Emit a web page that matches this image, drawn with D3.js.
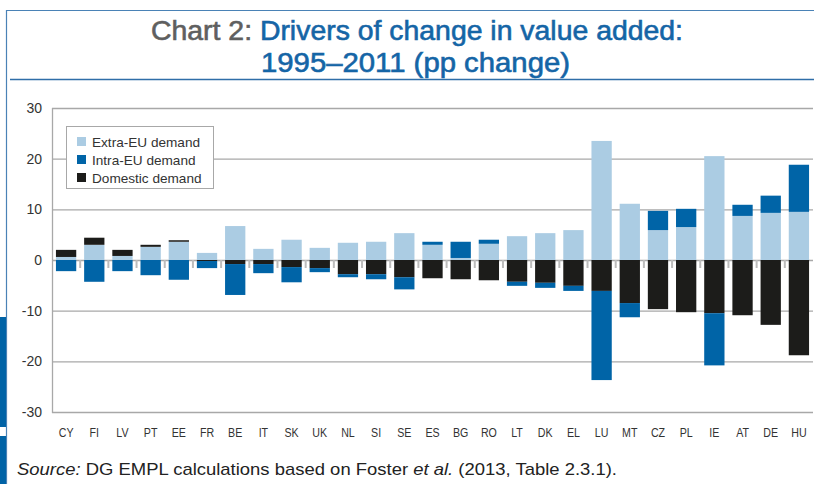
<!DOCTYPE html>
<html>
<head>
<meta charset="utf-8">
<script src="https://cdn.jsdelivr.net/npm/d3@7"></script>
<style>
  body { margin: 0; background: #fff; }
  svg { display: block; }
</style>
</head>
<body>
<svg id="chart" width="814" height="484"></svg>
<script>
// ---- data (pp change, 1995-2011) ----
var countries = ["CY","FI","LV","PT","EE","FR","BE","IT","SK","UK","NL","SI","SE",
                 "ES","BG","RO","LT","DK","EL","LU","MT","CZ","PL","IE","AT","DE","HU"];
var extraEU  = [0.6, 3.0, 0.8, 2.6, 3.6, 1.4, 6.7, 2.2, 4.0, 2.4, 3.4, 3.6, 5.3,
                3.0, 0.4, 3.2, 4.7, 5.3, 5.9, 23.5, 11.1, 5.9, 6.5, 20.5, 8.7, 9.3, 9.5];
var intraEU  = [-2.2, -4.3, -2.2, -3.0, -3.9, -1.4, -6.1, -1.8, -3.0, -0.8, -0.6, -1.0, -2.4,
                0.6, 3.2, 0.8, -0.8, -1.0, -1.0, -17.6, -2.8, 3.8, 3.6, -10.3, 2.2, 3.4, 9.3];
var domestic = [1.4, 1.4, 1.2, 0.4, 0.3, -0.2, -0.8, -0.8, -1.4, -1.6, -2.8, -2.8, -3.4,
                -3.6, -3.8, -4.0, -4.3, -4.5, -5.1, -6.1, -8.5, -9.7, -10.3, -10.5, -10.9, -12.8, -18.8];
var yTicks = [-30, -20, -10, 0, 10, 20, 30];
var seriesNames = ["Extra-EU demand", "Intra-EU demand", "Domestic demand"];
var seriesColors = ["#abcce3", "#0064a7", "#1c1c1a"];

var svg = d3.select("#chart");
var margin = {left: 52, right: 1, top: 108, bottom: 72};
var W = 814, H = 484;

//** frame and title **//
svg.append("path")
  .attr("d", "M814,10.5H6.5V484")
  .attr("fill", "none").attr("stroke", "#4a82b6").attr("stroke-width", 1.2);
svg.append("rect").attr("x", 0).attr("y", 317).attr("width", 6).attr("height", 110).attr("fill", "#0063a6");
svg.append("rect").attr("x", 0).attr("y", 436).attr("width", 6).attr("height", 48).attr("fill", "#0063a6");
svg.append("line")
  .attr("x1", 10).attr("x2", 814).attr("y1", 79.5).attr("y2", 79.5)
  .attr("stroke", "#2f6ea8").attr("stroke-width", 1.6);

var titleFont = "'Liberation Sans Narrow','Liberation Sans',Arial,sans-serif";
var t1 = svg.append("text").attr("x", 417).attr("y", 40).attr("text-anchor", "middle")
  .style("font-family", titleFont).style("font-size", "27px")
  .style("stroke-width", "0.6px");
t1.append("tspan").attr("fill", "#5f5f5f").attr("stroke", "#5f5f5f").text("Chart 2: ");
t1.append("tspan").attr("fill", "#1565a6").attr("stroke", "#1565a6").text("Drivers of change in value added:");
var t2 = svg.append("text").attr("x", 415.5).attr("y", 72).attr("text-anchor", "middle")
  .style("font-family", titleFont).style("font-size", "27px")
  .style("stroke-width", "0.6px")
  .attr("fill", "#1565a6").attr("stroke", "#1565a6").text("1995\u20132011 (pp change)");

function fitWidth(sel, w) {
  var len = sel.node().getComputedTextLength();
  if (Math.abs(len - w) > 2) sel.attr("textLength", w).attr("lengthAdjust", "spacingAndGlyphs");
}
fitWidth(t1, 532);
fitWidth(t2, 309);

//** scales **//
var x = d3.scaleBand().domain(countries)
  .range([margin.left, W - margin.right])
  .paddingInner(0.28).paddingOuter(0.14);
var y = d3.scaleLinear().domain([-30, 30]).range([412, 108]);

// grid
svg.append("g").selectAll("line").data(yTicks).enter().append("line")
  .attr("x1", margin.left).attr("x2", W - margin.right)
  .attr("y1", function(d) { return y(d) + 0.5; })
  .attr("y2", function(d) { return y(d) + 0.5; })
  .attr("stroke", "#a8a8a8").attr("stroke-width", 1.3);
svg.append("line")
  .attr("x1", margin.left + 0.5).attr("x2", margin.left + 0.5)
  .attr("y1", y(30)).attr("y2", y(-30) + 1)
  .attr("stroke", "#a8a8a8").attr("stroke-width", 1.3);

// category tick marks below zero line
svg.append("g").selectAll("line").data(countries.slice(1)).enter().append("line")
  .attr("x1", function(d) { return x(d) - x.step() * x.paddingInner() / 2; })
  .attr("x2", function(d) { return x(d) - x.step() * x.paddingInner() / 2; })
  .attr("y1", y(0)).attr("y2", y(0) + 8)
  .attr("stroke", "#bcbcbc").attr("stroke-width", 2);

// y tick labels
svg.append("g").selectAll("text").data(yTicks).enter().append("text")
  .attr("x", 42).attr("y", function(d) { return y(d) + 5; })
  .attr("text-anchor", "end")
  .style("font-family", "'Liberation Sans',Arial,sans-serif").style("font-size", "14px")
  .attr("fill", "#333").text(function(d) { return d; });

// x labels (condensed look)
svg.append("g").selectAll("text").data(countries).enter().append("text")
  .attr("transform", function(d) {
    return "translate(" + (x(d) + x.bandwidth() / 2) + ",437) scale(0.82,1)";
  })
  .attr("text-anchor", "middle")
  .style("font-family", "'Liberation Sans',Arial,sans-serif").style("font-size", "13px")
  .attr("fill", "#333").text(function(d) { return d; });

//** stacked bars: positives extra->intra->domestic, negatives domestic->intra->extra **//
var segments = [];
countries.forEach(function(c, i) {
  var vals = [extraEU[i], intraEU[i], domestic[i]];
  var pos = 0, neg = 0;
  [0, 1, 2].forEach(function(k) {
    if (vals[k] > 0) { segments.push({c: c, k: k, y0: pos, y1: pos + vals[k]}); pos += vals[k]; }
  });
  [2, 1, 0].forEach(function(k) {
    if (vals[k] < 0) { segments.push({c: c, k: k, y0: neg, y1: neg + vals[k]}); neg += vals[k]; }
  });
});

svg.append("g").selectAll("rect").data(segments).enter().append("rect")
  .attr("x", function(d) { return x(d.c); })
  .attr("width", x.bandwidth())
  .attr("y", function(d) { return y(Math.max(d.y0, d.y1)); })
  .attr("height", function(d) { return Math.abs(y(d.y0) - y(d.y1)); })
  .attr("fill", function(d) { return seriesColors[d.k]; });

//** legend **//
var legend = svg.append("g");
legend.append("rect")
  .attr("x", 66.5).attr("y", 126.5).attr("width", 147).attr("height", 62)
  .attr("fill", "#fff").attr("stroke", "#a8a8a8").attr("stroke-width", 1);
var items = legend.selectAll("g.item").data(seriesNames).enter().append("g")
  .attr("transform", function(d, i) { return "translate(77," + (137 + i * 18) + ")"; });
items.append("rect").attr("width", 9).attr("height", 9)
  .attr("fill", function(d, i) { return seriesColors[i]; });
items.append("text").attr("x", 15).attr("y", 9.5)
  .style("font-family", "'Liberation Sans',Arial,sans-serif").style("font-size", "13.6px")
  .attr("fill", "#333").text(function(d) { return d; });

//** source **//
var src = svg.append("text").attr("x", 17).attr("y", 475)
  .style("font-family", "'Liberation Sans',Arial,sans-serif").style("font-size", "17px")
  .attr("fill", "#222");
src.append("tspan").style("font-style", "italic").text("Source:");
src.append("tspan").text(" DG EMPL calculations based on Foster ");
src.append("tspan").style("font-style", "italic").text("et al.");
src.append("tspan").text(" (2013, Table 2.3.1).");
fitWidth(src, 600);
</script>
</body>
</html>
